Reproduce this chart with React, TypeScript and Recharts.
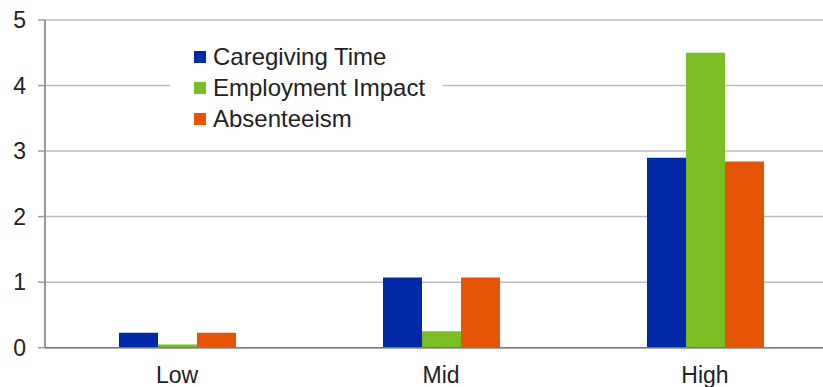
import { Bar, BarChart, CartesianGrid, Legend, XAxis, YAxis } from "recharts";

const categories = ["Low", "Mid", "High"];
const caregivingTime = [0.23, 1.07, 2.9];
const employmentImpact = [0.05, 0.25, 4.5];
const absenteeism = [0.23, 1.07, 2.84];
const yTicks = [0, 1, 2, 3, 4, 5];

const series = [
  { key: "caregiving", name: "Caregiving Time", color: "#0029A5" },
  { key: "employment", name: "Employment Impact", color: "#7BBE24" },
  { key: "absenteeism", name: "Absenteeism", color: "#E45508" },
];

const data = categories.map((name, i) => ({
  name,
  caregiving: caregivingTime[i],
  employment: employmentImpact[i],
  absenteeism: absenteeism[i],
}));

const font = '"Liberation Sans", Arial, sans-serif';

function LegendBox() {
  return (
    <div
      style={{
        background: "#fff",
        width: 273,
        padding: "5px 0 6px 24px",
        boxSizing: "border-box",
        fontFamily: font,
        fontSize: 24,
        color: "#222",
      }}
    >
      {series.map((s) => (
        <div key={s.key} style={{ display: "flex", alignItems: "center", height: 31 }}>
          <span style={{ width: 12, height: 12, background: s.color, marginRight: 7, display: "inline-block" }} />
          <span style={{ lineHeight: "31px" }}>{s.name}</span>
        </div>
      ))}
    </div>
  );
}

export default function App() {
  return (
    <div
      style={{
        position: "fixed",
        left: 0,
        top: 0,
        width: 823,
        height: 387,
        overflow: "hidden",
        background: "#fff",
      }}
    >
      <BarChart
        width={837}
        height={387}
        data={data}
        margin={{ top: 20, right: 0, bottom: 0, left: 0 }}
        barGap={0}
        barSize={39}
      >
        <CartesianGrid stroke="#b9bcc0" strokeWidth={1.5} vertical={false} />
        <XAxis
          dataKey="name"
          height={39.3}
          tickLine={false}
          tickSize={0}
          tickMargin={19}
          axisLine={{ stroke: "#75787c", strokeWidth: 1.5 }}
          tick={{ fill: "#222", fontSize: 23, fontFamily: font }}
        />
        <YAxis
          width={45}
          domain={[0, 5]}
          ticks={yTicks}
          interval={0}
          tickSize={7}
          tickMargin={12}
          axisLine={{ stroke: "#75787c", strokeWidth: 1.5 }}
          tickLine={{ stroke: "#9a9da1", strokeWidth: 1.5 }}
          tick={{ fill: "#222", fontSize: 23, fontFamily: font }}
        />
        <Legend
          content={<LegendBox />}
          layout="vertical"
          align="center"
          verticalAlign="middle"
          wrapperStyle={{ left: 170, top: 36, width: 273 }}
        />
        {series.map((s) => (
          <Bar key={s.key} dataKey={s.key} name={s.name} fill={s.color} isAnimationActive={false} />
        ))}
      </BarChart>
    </div>
  );
}
